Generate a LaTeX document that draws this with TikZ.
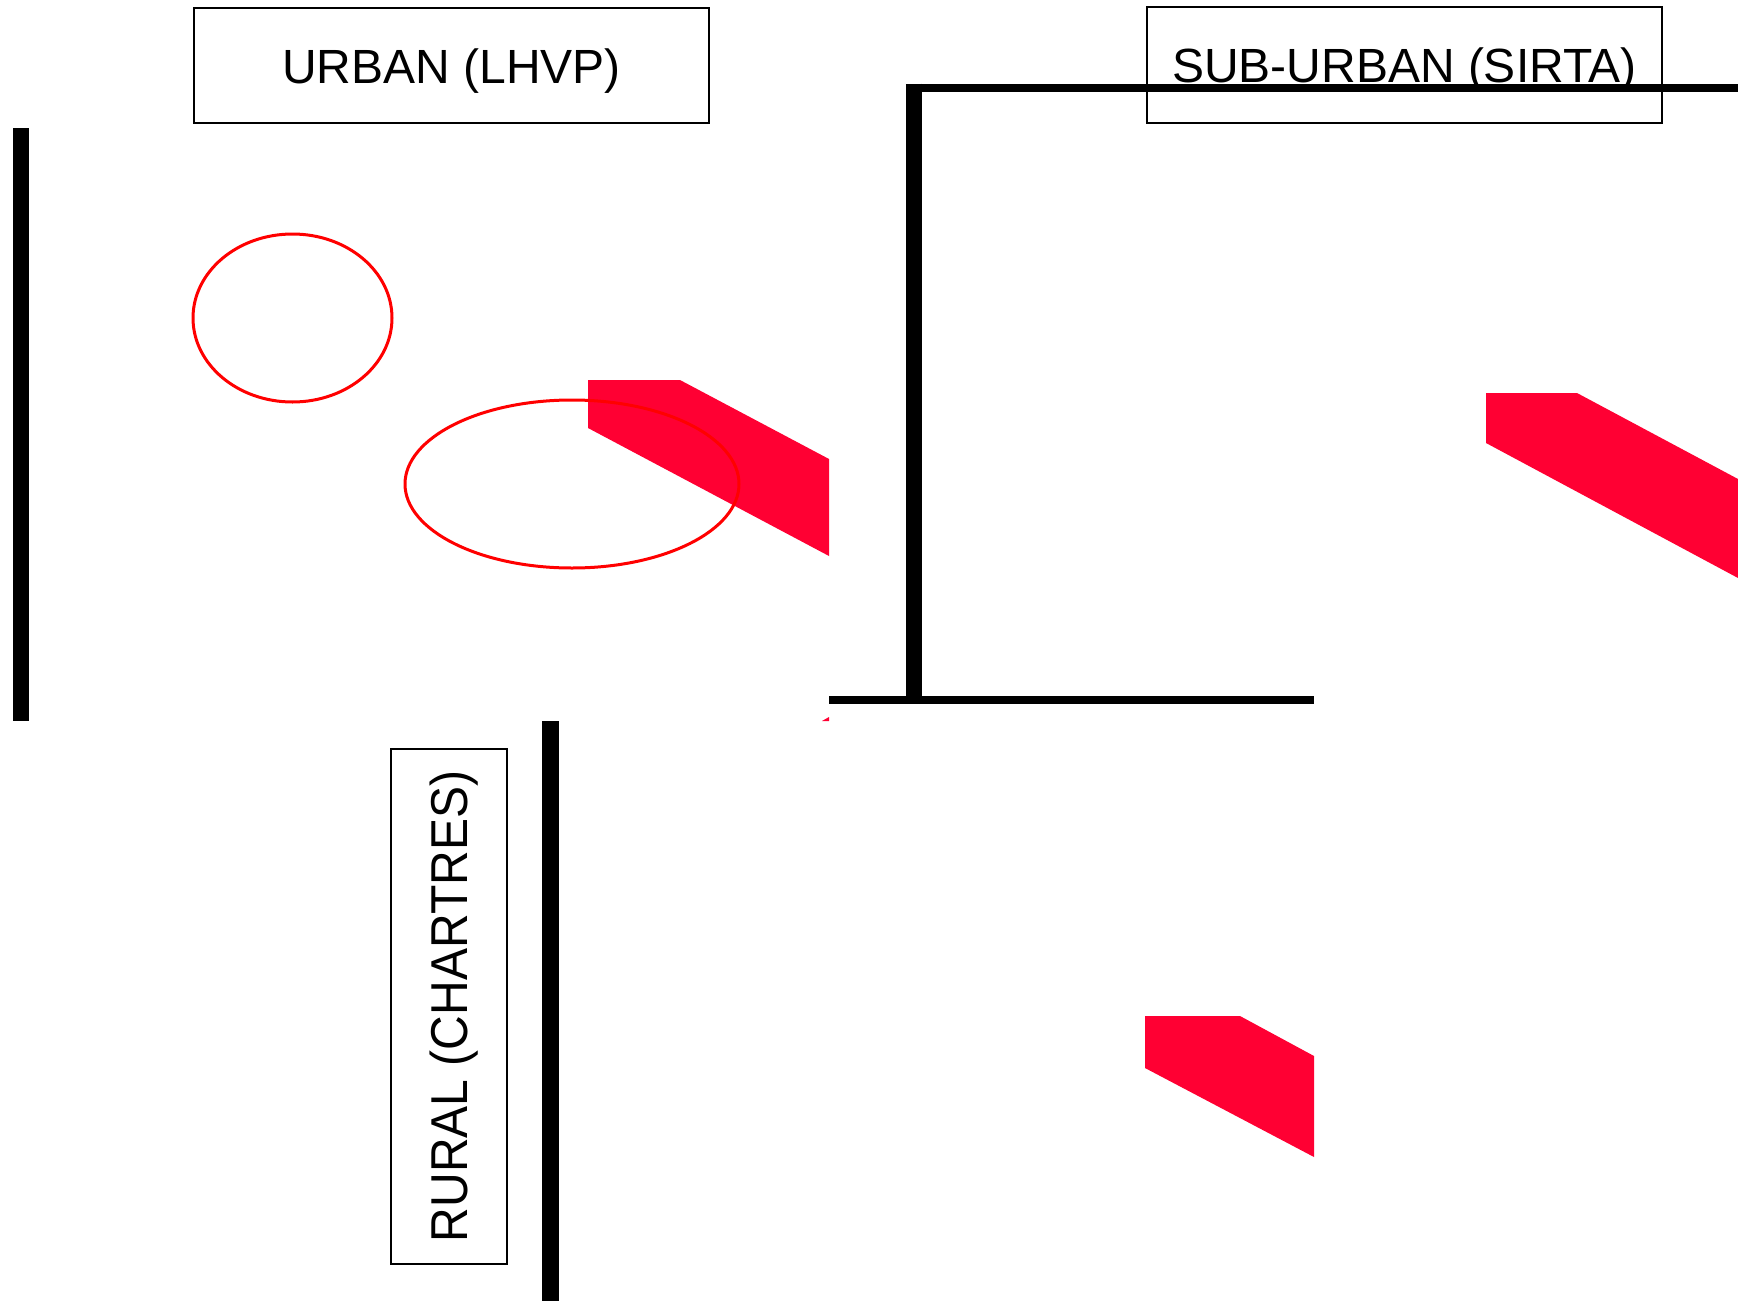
\documentclass[tikz,border=0pt]{standalone}
\usepackage{fontspec}
\setmainfont{Liberation Sans}
\definecolor{patchred}{HTML}{FF0033}
\definecolor{ringred}{HTML}{FF0000}
\begin{document}
\begin{tikzpicture}[x=1pt,y=-1pt,
  sitebox/.style={draw=black,line width=1.5pt,inner sep=0pt,
    font=\fontsize{48}{56}\selectfont},
  wall/.style={line width=16.5pt,black},
  rail/.style={line width=8pt,black},
  patch/.style={fill=patchred,draw=none},
  ring/.style={draw=ringred,line width=3pt}]
\useasboundingbox[fill=white] (0,0) rectangle (1738,1301);

% red patches
\fill[patch] (588,380) -- (680,380) -- (829,459) -- (829,556) -- (588,428) -- cycle;
\fill[patch] (1486,393) -- (1577,393) -- (1738,479) -- (1738,578) -- (1486,443) -- cycle;
\fill[patch] (1145,1016) -- (1240,1016) -- (1314,1056) -- (1314,1157) -- (1145,1068) -- cycle;
\fill[patch] (822,721) -- (829,721) -- (829,717) -- cycle;

% red outlines
\draw[ring] (292.5,318) ellipse [x radius=99.5, y radius=84];
\draw[ring] (572,484) ellipse [x radius=167, y radius=84];

% label boxes (text centred on its capital letters)
\node[sitebox,minimum width=515pt,minimum height=115pt,
  text height=35pt,text depth=0pt] (urban) at (451.5,65.5) {URBAN (LHVP)};
\node[sitebox,minimum width=515pt,minimum height=116pt,
  text height=35pt,text depth=0pt] (suburban) at (1404.5,65) {SUB-URBAN (SIRTA)};
\node[sitebox,minimum width=116pt,minimum height=515pt] (rural) at (449,1006.5)
  {\rotatebox{90}{\raisebox{0pt}[37pt][0pt]{\scalebox{1}[1.08]{RURAL (CHARTRES)}}}};

% black bars
\draw[wall,line width=16pt] (21,128) -- (21,720.5);
\draw[wall,line width=17pt] (550.5,721) -- (550.5,1301);
\draw[wall] (914,83.5) -- (914,703);
\draw[rail] (905.75,87.5) -- (1738,87.5);
\draw[rail] (829,699.5) -- (1314,699.5);
\end{tikzpicture}
\end{document}
